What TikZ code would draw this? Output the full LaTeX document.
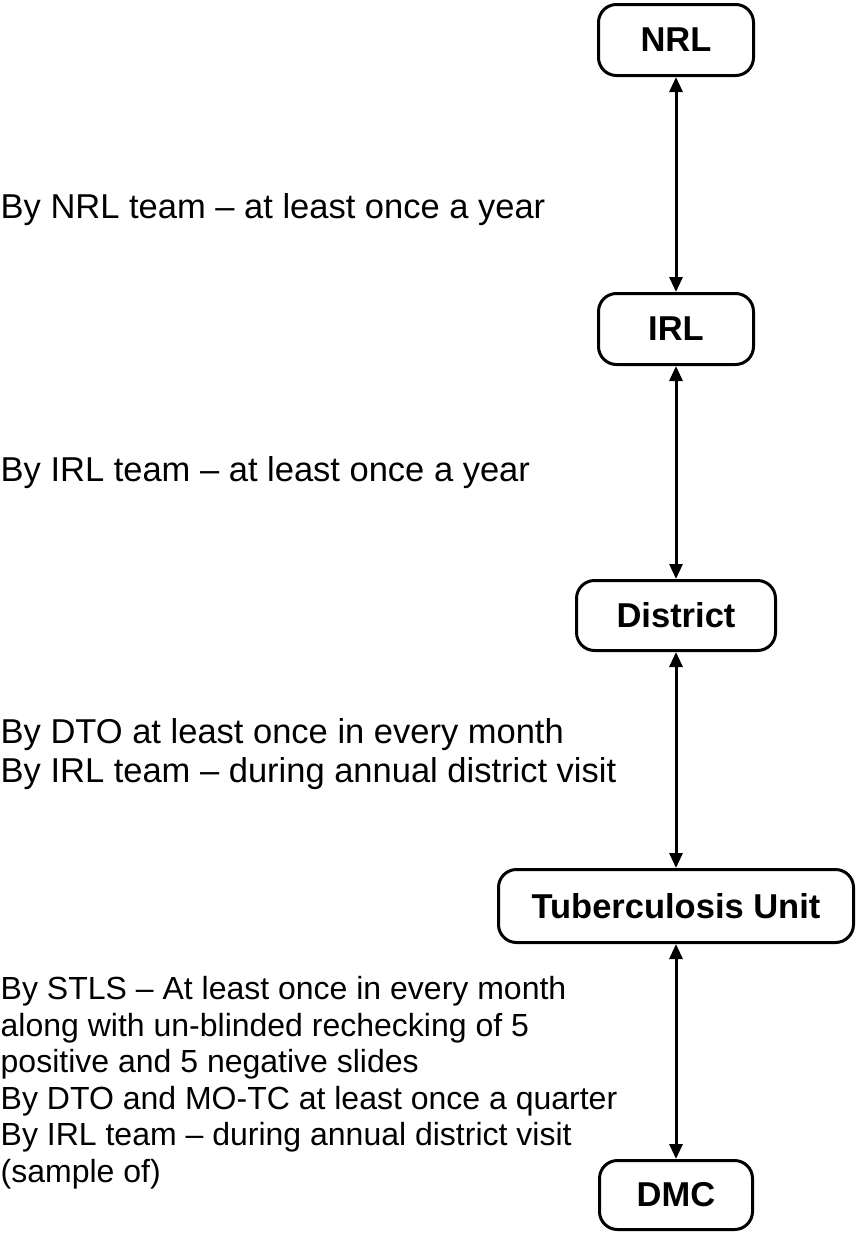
\documentclass[tikz,border=0pt]{standalone}
\usepackage{fontspec}
\setmainfont{Liberation Sans}
\usetikzlibrary{arrows.meta}
\begin{document}
\begin{tikzpicture}[x=1pt,y=-1pt,
  box/.style={draw, line width=3pt, rounded corners=18pt, inner sep=0pt,
    font=\fontsize{34.5}{40}\selectfont\bfseries},
  link/.style={line width=3pt,
    {Triangle[length=15pt,width=13pt]}-{Triangle[length=15pt,width=13pt]}},
  lbl/.style={inner sep=0pt, align=left, font=\fontsize{34.5}{39}\selectfont},
  lblsmall/.style={inner sep=0pt, align=left, font=\fontsize{32}{36.5}\selectfont}]
\useasboundingbox (0,0) rectangle (857,1234);

\node[box, minimum width=155pt, minimum height=71pt] (NRL) at (676,40) {NRL};
\node[box, minimum width=155pt, minimum height=71pt] (IRL) at (676,329) {IRL};
\node[box, minimum width=199pt, minimum height=70pt] (District) at (676,615.5) {District};
\node[box, minimum width=355pt, minimum height=73pt] (TU) at (676,906) {Tuberculosis Unit};
\node[box, minimum width=153pt, minimum height=69pt] (DMC) at (676,1195) {DMC};

\draw[link] (NRL) -- (IRL);
\draw[link] (IRL) -- (District);
\draw[link] (District) -- (TU);
\draw[link] (TU) -- (DMC);

\node[lbl, anchor=base west] (t1) at (0.5,218) {By NRL team – at least once a year};
\node[lbl, anchor=base west] (t2) at (0.5,481) {By IRL team – at least once a year};
\node[lbl, anchor=north west] (t3) at (0.5,718.5) {By DTO at least once in every month\\By IRL team – during annual district visit};
\node[lblsmall, anchor=north west] (t4) at (0.5,976.5) {By STLS – At least once in every month\\along with un-blinded rechecking of 5\\positive and 5 negative slides\\By DTO and MO-TC at least once a quarter\\By IRL team – during annual district visit\\(sample of)};
\end{tikzpicture}
\end{document}
